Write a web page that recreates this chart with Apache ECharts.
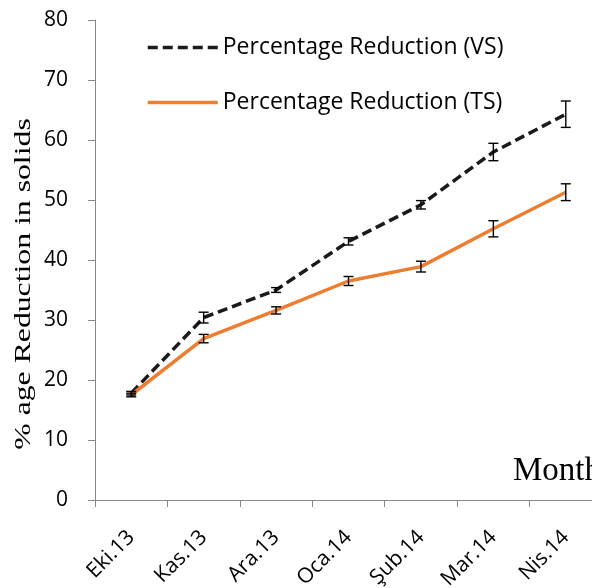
<!DOCTYPE html>
<html>
<head>
<meta charset="utf-8">
<script src="https://cdn.jsdelivr.net/npm/echarts@6/dist/echarts.min.js"></script>
<style>html,body{margin:0;padding:0;background:#fff;}#c{width:592px;height:588px;}</style>
</head>
<body>
<div id="c"></div>
<script>
const months = ['Eki.13', 'Kas.13', 'Ara.13', 'Oca.14', 'Şub.14', 'Mar.14', 'Nis.14'];
const vsValues = [17.8, 30.4, 35.0, 43.1, 49.2, 58.0, 64.3];
const vsErrors = [0.3, 0.9, 0.4, 0.6, 0.7, 1.45, 2.2];
const tsValues = [17.5, 26.9, 31.6, 36.5, 38.9, 45.2, 51.3];
const tsErrors = [0.3, 0.7, 0.6, 0.75, 0.9, 1.35, 1.4];
const yTicks = [0, 10, 20, 30, 40, 50, 60, 70, 80];
const seriesNames = ['Percentage Reduction (VS)', 'Percentage Reduction (TS)'];

const chart = echarts.init(document.getElementById('c'), null, {renderer: 'canvas'});

function errorSeries(values, errors) {
  return {
    type: 'custom',
    silent: true,
    z: 5,
    data: values.map((v, i) => [i, v - errors[i], v + errors[i]]),
    renderItem: function (params, api) {
      const lo = api.coord([api.value(0), api.value(1)]);
      const hi = api.coord([api.value(0), api.value(2)]);
      const hw = 5;
      const st = {stroke: '#000', lineWidth: 1.4};
      return {
        type: 'group',
        children: [
          {type: 'line', shape: {x1: lo[0], y1: lo[1], x2: hi[0], y2: hi[1]}, style: st},
          {type: 'line', shape: {x1: lo[0] - hw, y1: lo[1], x2: lo[0] + hw, y2: lo[1]}, style: st},
          {type: 'line', shape: {x1: hi[0] - hw, y1: hi[1], x2: hi[0] + hw, y2: hi[1]}, style: st}
        ]
      };
    }
  };
}

const option = {
  animation: false,
  grid: {left: 95, top: 20, width: 507, height: 480, containLabel: false, outerBoundsMode: 'none'},
  legend: {
    data: seriesNames,
    orient: 'vertical',
    left: 146,
    top: 36,
    padding: 0,
    itemWidth: 70,
    itemHeight: 22,
    itemGap: 32,
    itemStyle: {opacity: 0},
    lineStyle: {width: 3.5},
    textStyle: {fontFamily: 'Open Sans', fontSize: 23, lineHeight: 22, color: '#000'}
  },
  xAxis: {
    type: 'category',
    data: months,
    boundaryGap: true,
    axisLine: {lineStyle: {color: '#888', width: 1}},
    axisTick: {show: true, length: 7, lineStyle: {color: '#888'}},
    axisLabel: {rotate: 45, fontFamily: 'Open Sans', fontSize: 21, color: '#000', margin: 34}
  },
  yAxis: {
    type: 'value',
    min: yTicks[0],
    max: yTicks[yTicks.length - 1],
    interval: 10,
    axisLine: {show: true, lineStyle: {color: '#888', width: 1}},
    axisTick: {show: true, length: 7, lineStyle: {color: '#888'}},
    splitLine: {show: false},
    axisLabel: {fontFamily: 'Open Sans', fontSize: 21, color: '#000', margin: 27}
  },
  graphic: [
    {
      type: 'text',
      x: 24, y: 284,
      rotation: Math.PI / 2,
      scaleX: 1.38,
      style: {text: '% age Reduction in solids', font: '23px "Liberation Serif"', fill: '#000', textAlign: 'center', textVerticalAlign: 'middle'}
    },
    {
      type: 'text',
      x: 513, y: 471,
      style: {text: 'Month', font: '33px "Liberation Serif"', fill: '#000', textAlign: 'left', textVerticalAlign: 'middle'}
    }
  ],
  series: [
    {
      name: seriesNames[0],
      type: 'line',
      data: vsValues,
      symbol: 'none',
      z: 3,
      lineStyle: {color: '#1a1a1a', width: 3.5, type: [10, 5]},
      itemStyle: {color: '#1a1a1a'}
    },
    {
      name: seriesNames[1],
      type: 'line',
      data: tsValues,
      symbol: 'none',
      z: 3,
      lineStyle: {color: '#ED7D31', width: 3.5},
      itemStyle: {color: '#ED7D31'}
    },
    errorSeries(vsValues, vsErrors),
    errorSeries(tsValues, tsErrors)
  ]
};
chart.setOption(option);
</script>
</body>
</html>
